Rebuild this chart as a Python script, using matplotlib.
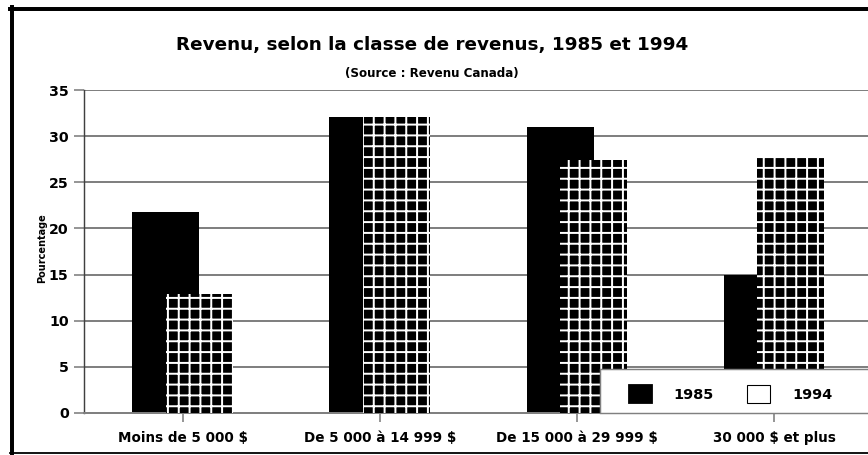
import matplotlib.pyplot as plt
import numpy as np
from matplotlib.lines import Line2D
from matplotlib.patches import Patch, Rectangle

# Data
categories = ['Moins de 5 000 $', 'De 5 000 à 14 999 $',
              'De 15 000 à 29 999 $', '30 000 $ et plus']
values_1985 = [21.8, 32.1, 31.0, 15.0]
values_1994 = [12.9, 32.1, 27.4, 27.6]
series_labels = ['1985', '1994']
y_ticks = [0, 5, 10, 15, 20, 25, 30, 35]

W, H, DPI = 868, 455, 130
plt.rcParams['font.family'] = 'DejaVu Sans'
plt.rcParams['font.weight'] = 'bold'
plt.rcParams['hatch.linewidth'] = 1.1

fig = plt.figure(figsize=(W / DPI, H / DPI), dpi=DPI)
ax_w, ax_h = 788.5, 323
ax = fig.add_axes([84 / W, 1 - 413 / H, ax_w / W, ax_h / H])

x = np.arange(len(categories))
width = 0.34
offset = 0.085
ax.bar(x - offset, values_1985, width, color='black', linewidth=0, zorder=2)
ax.bar(x + offset, values_1994, width, facecolor='black', edgecolor='white',
       hatch='++', linewidth=0, zorder=3)

ax.set_xlim(-0.5, len(categories) - 0.5)
ax.set_ylim(0, 35)
ax.set_yticks(y_ticks)
ax.set_xticks(x)
ax.set_xticklabels(categories, fontsize=7.5, fontweight='bold')
ax.set_yticklabels([str(t) for t in y_ticks], fontsize=7.8, fontweight='bold')

ax.grid(axis='y', color='#808080', linewidth=1.1, zorder=1)
ax.set_axisbelow(True)
for s in ['top', 'right']:
    ax.spines[s].set_visible(False)
ax.spines['left'].set_color('#404040')
ax.spines['left'].set_linewidth(0.8)
ax.spines['bottom'].set_color('#808080')
ax.spines['bottom'].set_linewidth(1.1)
ax.tick_params(axis='y', length=5.5, width=0.9, color='#808080', pad=3)
ax.tick_params(axis='x', length=5, width=0.9, color='#808080', pad=5)

# Titles and axis label
fig.text(432 / W, 1 - 45 / H, 'Revenu, selon la classe de revenus, 1985 et 1994',
         ha='center', va='center', fontsize=10.2, fontweight='bold')
fig.text(432 / W, 1 - 74 / H, '(Source : Revenu Canada)',
         ha='center', va='center', fontsize=6.6, fontweight='bold')
fig.text(42 / W, 1 - 248 / H, 'Pourcentage', rotation=90,
         ha='center', va='center', fontsize=5.4, fontweight='bold')

# Legend box (runs off the right edge like the reference)
ax.add_patch(Rectangle(((600 - 84) / ax_w, 0), 0.5, (413 - 369) / ax_h,
                       transform=ax.transAxes, facecolor='white',
                       edgecolor='#808080', linewidth=0.8, zorder=5,
                       clip_on=False))
handles = [Patch(facecolor='black', edgecolor='black'),
           Patch(facecolor='white', edgecolor='black', linewidth=0.6)]
leg = ax.legend(handles, series_labels, loc='lower left',
                bbox_to_anchor=((629 - 84) / ax_w, (413 - 403) / ax_h), ncol=2,
                handlelength=1.6, handleheight=1.55,
                handletextpad=1.5, columnspacing=2.3, borderpad=0,
                borderaxespad=0, frameon=False,
                prop={'weight': 'bold', 'size': 8})
leg.set_zorder(6)

# Outer border
fig.add_artist(Line2D([12 / W, 12 / W], [0, 1 - 7 / H], color='black', linewidth=2.2))
fig.add_artist(Line2D([10 / W, 1], [1 - 9 / H, 1 - 9 / H], color='black', linewidth=2.2))
fig.add_artist(Line2D([10 / W, 1], [1 - 453 / H, 1 - 453 / H], color='black', linewidth=1.0))

fig.savefig('out.png', dpi=DPI)
